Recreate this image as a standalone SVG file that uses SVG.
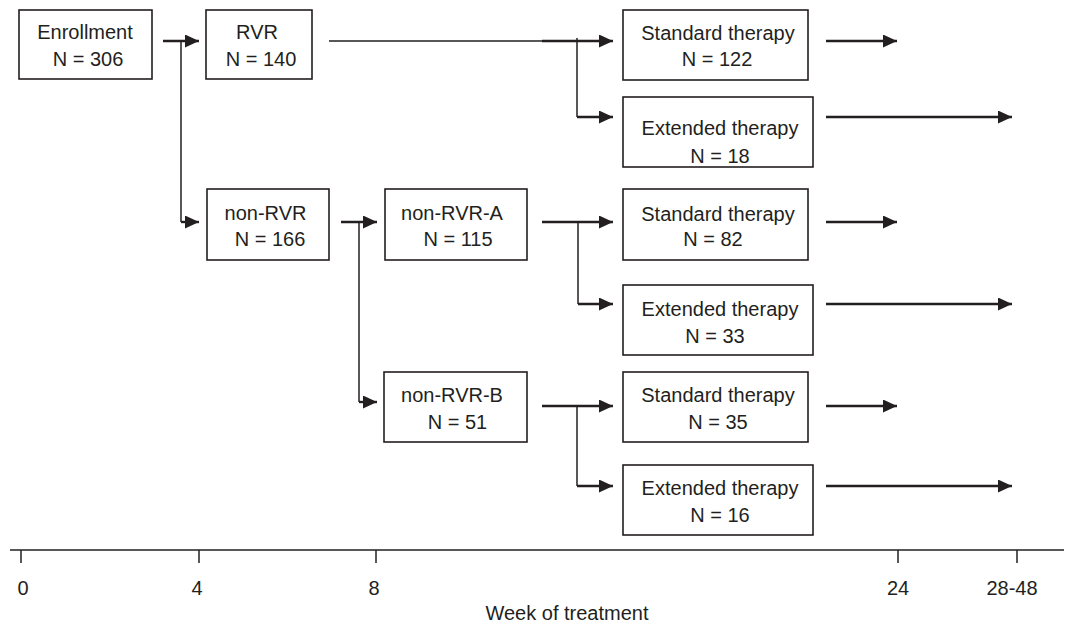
<svg xmlns="http://www.w3.org/2000/svg" width="1074" height="628" viewBox="0 0 1074 628">
<defs>
<marker id="ah" markerUnits="userSpaceOnUse" markerWidth="15" markerHeight="13" refX="14" refY="6.5" orient="auto">
<path d="M0,0 L14,6.5 L0,13 Z" fill="#231f20"/>
</marker>
<style>
.box{fill:#fff;stroke:#231f20;stroke-width:1.6}
.t{font-family:"Liberation Sans",Arial,sans-serif;font-size:20px;fill:#231f20;text-anchor:middle}
.c{fill:none;stroke:#231f20;stroke-width:1.5}
.a{fill:none;stroke:#231f20;stroke-width:2.4;marker-end:url(#ah)}
.ax{fill:none;stroke:#231f20;stroke-width:1.5}
</style>
</defs>
<rect width="1074" height="628" fill="#fff"/>

<g id="connectors">
<line class="c" x1="181" y1="41" x2="181" y2="222"/>
<path class="a" d="M163,41 H199"/>
<path class="a" d="M181,222 H199"/>
<line class="c" x1="329" y1="41" x2="545" y2="41"/>
<line class="c" x1="577" y1="38" x2="577" y2="117"/>
<path class="a" d="M542,41 H613"/>
<path class="a" d="M577,117 H613"/>
<path class="a" d="M826,41 H897"/>
<path class="a" d="M826,117 H1012"/>
<line class="c" x1="359" y1="222" x2="359" y2="402"/>
<path class="a" d="M341,222 H377"/>
<path class="a" d="M359,402 H377"/>
<line class="c" x1="578" y1="222" x2="578" y2="304"/>
<path class="a" d="M542,222 H613"/>
<path class="a" d="M578,304 H613"/>
<path class="a" d="M826,222 H897"/>
<path class="a" d="M826,304 H1012"/>
<line class="c" x1="577" y1="406" x2="577" y2="486"/>
<path class="a" d="M542,406 H613"/>
<path class="a" d="M577,486 H613"/>
<path class="a" d="M826,406 H897"/>
<path class="a" d="M826,486 H1012"/>
</g>

<g id="enrollment">
<rect class="box" x="19" y="10" width="133" height="69"/>
<text class="t" x="85" y="39">Enrollment</text>
<text class="t" x="88" y="66">N = 306</text>
</g>
<g id="rvr">
<rect class="box" x="206" y="10" width="106" height="69"/>
<text class="t" x="257" y="39">RVR</text>
<text class="t" x="261" y="66">N = 140</text>
</g>
<g id="rvr-standard">
<rect class="box" x="623" y="10" width="185" height="70"/>
<text class="t" x="718" y="40">Standard therapy</text>
<text class="t" x="717" y="66">N = 122</text>
</g>
<g id="rvr-extended">
<rect class="box" x="623" y="97" width="190" height="70"/>
<text class="t" x="720" y="135">Extended therapy</text>
<text class="t" x="720" y="163">N = 18</text>
</g>
<g id="non-rvr">
<rect class="box" x="207" y="189" width="122" height="71"/>
<text class="t" x="265.5" y="220">non-RVR</text>
<text class="t" x="270" y="246">N = 166</text>
</g>
<g id="non-rvr-a">
<rect class="box" x="385" y="189" width="142" height="71"/>
<text class="t" x="452" y="220">non-RVR-A</text>
<text class="t" x="458" y="246">N = 115</text>
</g>
<g id="a-standard">
<rect class="box" x="623" y="189" width="185" height="71"/>
<text class="t" x="718" y="221">Standard therapy</text>
<text class="t" x="713" y="246">N = 82</text>
</g>
<g id="a-extended">
<rect class="box" x="623" y="285" width="190" height="70"/>
<text class="t" x="720" y="316">Extended therapy</text>
<text class="t" x="715" y="343">N = 33</text>
</g>
<g id="non-rvr-b">
<rect class="box" x="384" y="372" width="143" height="70"/>
<text class="t" x="452" y="402">non-RVR-B</text>
<text class="t" x="457.5" y="429">N = 51</text>
</g>
<g id="b-standard">
<rect class="box" x="623" y="372" width="185" height="70"/>
<text class="t" x="718" y="402">Standard therapy</text>
<text class="t" x="718" y="429">N = 35</text>
</g>
<g id="b-extended">
<rect class="box" x="623" y="465" width="190" height="70"/>
<text class="t" x="720" y="495">Extended therapy</text>
<text class="t" x="720" y="522">N = 16</text>
</g>

<g id="axis">
<line class="ax" x1="10" y1="550" x2="1064" y2="550"/>
<line class="ax" x1="21" y1="550" x2="21" y2="563"/>
<line class="ax" x1="199" y1="550" x2="199" y2="563"/>
<line class="ax" x1="376" y1="550" x2="376" y2="563"/>
<line class="ax" x1="898" y1="550" x2="898" y2="563"/>
<line class="ax" x1="1017" y1="550" x2="1017" y2="563"/>
<text class="t" x="23" y="595">0</text>
<text class="t" x="197" y="595">4</text>
<text class="t" x="374" y="595">8</text>
<text class="t" x="898" y="595">24</text>
<text class="t" x="1012" y="595">28-48</text>
<text class="t" x="567" y="620">Week of treatment</text>
</g>
</svg>
